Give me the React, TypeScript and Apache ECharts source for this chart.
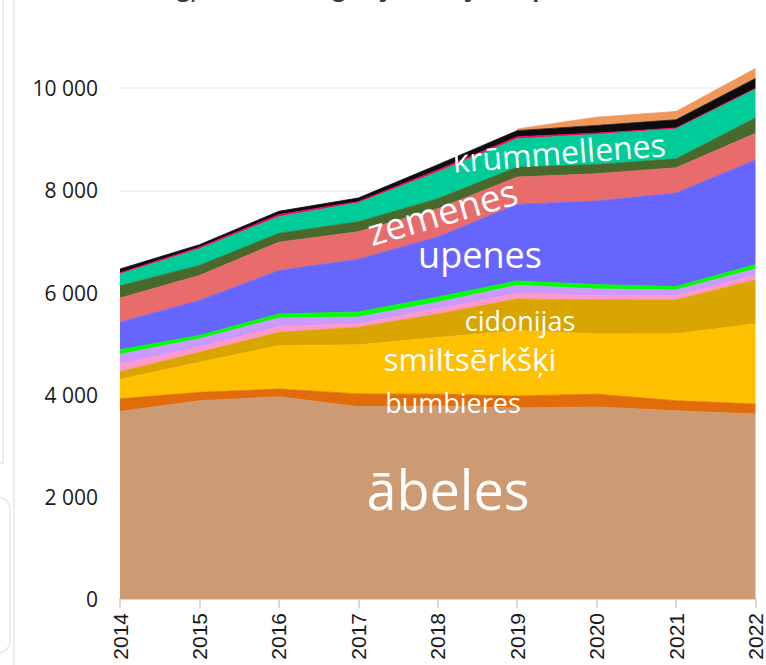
import React, { useEffect, useRef } from "react";
import * as echarts from "echarts";

const years = ["2014", "2015", "2016", "2017", "2018", "2019", "2020", "2021", "2022"];
const titleText = "Augļu koku un ogulāju stādījumu platības, ha";

const abeles = [3670, 3880, 3960, 3765, 3780, 3740, 3760, 3685, 3620];
const bumbieres = [250, 165, 150, 250, 230, 235, 250, 196, 196];
const smiltserkski = [380, 590, 850, 960, 1110, 1280, 1180, 1310, 1570];
const cidonijas = [150, 195, 260, 345, 460, 620, 665, 665, 860];
const kirsi = [145, 100, 110, 70, 100, 100, 85, 85, 85];
const plumes = [195, 165, 170, 130, 130, 165, 130, 110, 130];
const janogas = [90, 65, 80, 100, 100, 85, 85, 65, 85];
const upenes = [540, 685, 850, 1030, 1175, 1500, 1635, 1830, 2050];
const zemenes = [470, 490, 555, 540, 555, 535, 535, 495, 520];
const avenes = [240, 195, 175, 195, 195, 195, 180, 175, 300];
const krummellenes = [230, 325, 325, 370, 525, 555, 590, 590, 570];
const dzervenes = [25, 30, 40, 25, 40, 40, 25, 15, 10];
const aronijas = [75, 50, 65, 70, 100, 118, 150, 160, 195];
const citi = [null, null, null, null, null, 33, 163, 163, 196];

const seriesDefs = [
  { name: "ābeles", data: abeles, color: "#CC9A73" },
  { name: "bumbieres", data: bumbieres, color: "#E36C0A" },
  { name: "smiltsērkšķi", data: smiltserkski, color: "#FFC000" },
  { name: "cidonijas", data: cidonijas, color: "#D9A500" },
  { name: "ķirši", data: kirsi, color: "#FF99CC" },
  { name: "plūmes", data: plumes, color: "#CC99FF" },
  { name: "jāņogas", data: janogas, color: "#00FF00" },
  { name: "upenes", data: upenes, color: "#6666FF" },
  { name: "zemenes", data: zemenes, color: "#E96C6C" },
  { name: "avenes", data: avenes, color: "#48682C" },
  { name: "krūmmellenes", data: krummellenes, color: "#00CC99" },
  { name: "dzērvenes", data: dzervenes, color: "#FF0066" },
  { name: "aronijas", data: aronijas, color: "#0D0D0D" },
  { name: "citi", data: citi, color: "#F0985C" },
];

// page coordinates (the chart div is shifted up by OFF px)
const OFF = 14;
const areaLabels = [
  { text: "ābeles", x: 448, y: 489, size: 54, rot: 0 },
  { text: "bumbieres", x: 453, y: 402, size: 27, rot: 0 },
  { text: "smiltsērkšķi", x: 470, y: 358, size: 31.5, rot: 0 },
  { text: "cidonijas", x: 520, y: 320, size: 27, rot: 0 },
  { text: "upenes", x: 480, y: 254, size: 36, rot: 0 },
  { text: "zemenes", x: 442, y: 211, size: 37, rot: 16 },
  { text: "krūmmellenes", x: 559, y: 152, size: 32, rot: 4.4 },
];

function fmt(v: number) {
  if (v > 10000) return "";
  return String(v).replace(/\B(?=(\d{3})+(?!\d))/g, " ");
}

export default function App() {
  const ref = useRef<HTMLDivElement>(null);
  useEffect(() => {
    if (!ref.current) return;
    const chart = echarts.init(ref.current, undefined, { renderer: "svg" });
    const lineColor = "#ececec";
    chart.setOption({
      animation: false,
      backgroundColor: "#ffffff",
      grid: { left: 120, right: 1, top: 0, bottom: 66, containLabel: false },
      xAxis: {
        type: "category",
        data: years,
        boundaryGap: false,
        axisLine: { lineStyle: { color: "#d9d9d9", width: 2 } },
        axisTick: { length: 9, lineStyle: { color: "#d9d9d9", width: 2 } },
        axisLabel: {
          rotate: 90,
          margin: 14,
          fontFamily: "Liberation Sans",
          fontSize: 21,
          color: "#1a1a1a",
        },
        splitLine: { show: false },
      },
      yAxis: {
        type: "value",
        min: 0,
        max: 12000,
        interval: 2000,
        axisLine: { show: false },
        axisTick: { show: false },
        axisLabel: {
          margin: 22,
          fontFamily: "Open Sans",
          fontSize: 21,
          color: "#1a1a1a",
          formatter: (v: number) => fmt(v),
        },
        splitLine: { lineStyle: { color: "#eeeeee", width: 1.5 } },
      },
      series: seriesDefs.map((s) => ({
        name: s.name,
        type: "line",
        stack: "total",
        data: s.data,
        symbol: "none",
        showSymbol: false,
        lineStyle: { width: 0.8, color: s.color },
        areaStyle: { color: s.color, opacity: 1 },
        emphasis: { disabled: true },
      })),
      graphic: [
        {
          type: "text",
          x: 146,
          y: -13 + OFF,
          silent: true,
          style: {
            text: titleText,
            font: 'bold 23px "Open Sans"',
            fill: "#3a3a3a",
            textAlign: "left",
            textVerticalAlign: "middle",
            align: "left",
            verticalAlign: "middle",
          },
        },
        {
          type: "line",
          silent: true,
          shape: { x1: 14, y1: 0, x2: 14, y2: 700 },
          style: { stroke: lineColor, lineWidth: 2 },
        },
        {
          type: "polyline",
          silent: true,
          shape: { points: [[3, 0], [3, 463 + OFF], [0, 463 + OFF]] },
          style: { stroke: lineColor, lineWidth: 2, fill: null },
        },
        {
          type: "rect",
          silent: true,
          shape: { x: -20, y: 497 + OFF, width: 30, height: 156, r: 12 },
          style: { stroke: lineColor, lineWidth: 2, fill: null },
        },
        ...areaLabels.map((l) => ({
          type: "text",
          x: l.x,
          y: l.y + OFF,
          rotation: (l.rot * Math.PI) / 180,
          silent: true,
          z: 100,
          style: {
            text: l.text,
            font: `normal ${l.size}px "Open Sans"`,
            fill: "#ffffff",
            textAlign: "center",
            textVerticalAlign: "middle",
            align: "center",
            verticalAlign: "middle",
          },
        })),
      ],
    });
    return () => chart.dispose();
  }, []);
  return (
    <div
      ref={ref}
      style={{ position: "absolute", left: 0, top: -OFF, width: 766, height: 665 + OFF }}
    />
  );
}
